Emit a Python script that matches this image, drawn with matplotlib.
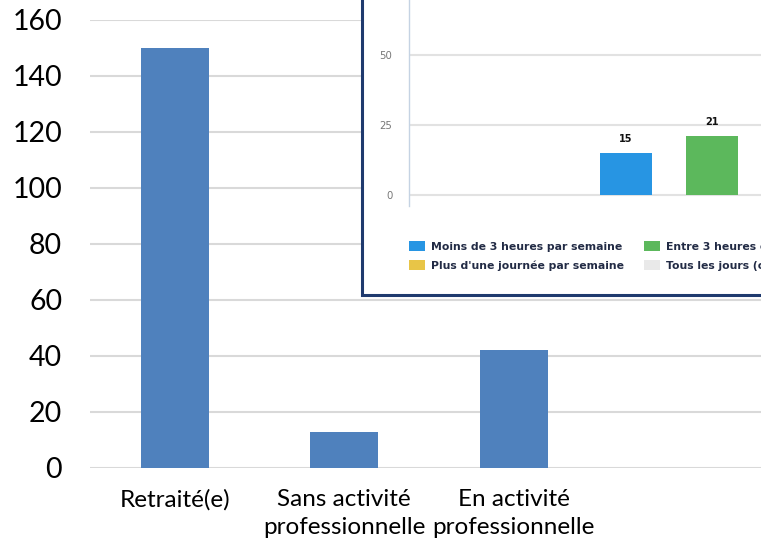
import matplotlib.pyplot as plt
from matplotlib.patches import Patch, Rectangle

# main chart
categories = ["Retraité(e)", "Sans activité\nprofessionnelle", "En activité\nprofessionnelle"]
values = [150, 13, 42]
y_ticks = [0, 20, 40, 60, 80, 100, 120, 140, 160]

# screenshot pasted on top
inset_labels = ["Moins de 3 heures par semaine", "Plus d'une journée par semaine",
                "Entre 3 heures et une journée par semaine", "Tous les jours (ou presque)"]
inset_colors = ["#2795e3", "#e8c547", "#5cb85c", "#e9e9e9"]
inset_values = [15, 21]
inset_bar_colors = ["#2795e3", "#5cb85c"]
inset_ticks = [0, 25, 50]

W, H = 761, 548
def fx(px): return px / W
def fy(py): return 1 - py / H

fig = plt.figure(figsize=(7.61, 5.48), dpi=100)

ax = fig.add_axes([fx(90), fy(468), fx(678), 448 / H])
ax.bar(range(len(values)), values, width=0.4, color="#4f81bd", zorder=3)
ax.set_xlim(-0.5, 3.5)
ax.set_ylim(0, 160)
ax.set_yticks(y_ticks)
ax.set_xticks(range(len(categories)))
ax.set_xticklabels(categories, fontsize=17.5, family="Lato", linespacing=1.45)
ax.set_yticklabels([str(t) for t in y_ticks], fontsize=20.5, family="Lato")
ax.tick_params(length=0, axis="y", pad=20)
ax.tick_params(length=0, axis="x", pad=15)
ax.grid(axis="y", color="#d9d9d9", lw=1.5, zorder=0)
for s in ax.spines.values():
    s.set_visible(False)

# inset frame
frame = Rectangle((fx(362), fy(295)), 0.6, 0.6, transform=fig.transFigure,
                  facecolor="white", edgecolor="#1f3a6e", lw=2.2, zorder=5)
fig.patches.append(frame)

iax = fig.add_axes([fx(409), fy(206), fx(432), 221 / H])
iax.set_zorder(6)
iax.patch.set_alpha(0)
b = iax.bar([0, 1], inset_values, width=0.6, color=inset_bar_colors, zorder=3)
for rect, v in zip(b, inset_values):
    iax.text(rect.get_x() + rect.get_width() / 2, v + 3.2, str(v), ha="center", va="bottom",
             fontsize=7, fontweight="bold", color="#111111", family="DejaVu Sans")
iax.set_xlim(-2.52, 2.5)
iax.set_ylim(-3.9, 75)
iax.set_yticks(inset_ticks)
iax.set_yticklabels([str(t) for t in inset_ticks], fontsize=7.3, color="#777777", family="DejaVu Sans")
iax.set_xticks([])
iax.tick_params(length=0, axis="y", pad=12)
iax.grid(axis="y", color="#e2e2e2", lw=1.5, zorder=0)
for k in ["top", "right", "bottom"]:
    iax.spines[k].set_visible(False)
iax.spines["left"].set_color("#c5d3e3")
iax.spines["left"].set_linewidth(1)

handles = [Patch(facecolor=c, edgecolor="none") for c in inset_colors]
leg = fig.legend(handles, inset_labels, ncol=2, loc="upper left",
                 bbox_to_anchor=(fx(409), fy(241)), frameon=False,
                 prop={"family": "DejaVu Sans", "weight": "bold", "size": 7.8},
                 handlelength=1.45, handleheight=1.1, handletextpad=0.55,
                 columnspacing=1.9, labelspacing=0.75, borderpad=0, borderaxespad=0)
leg.set_zorder(7)
for t in leg.get_texts():
    t.set_color("#222b45")

fig.savefig("out.png", dpi=100)
